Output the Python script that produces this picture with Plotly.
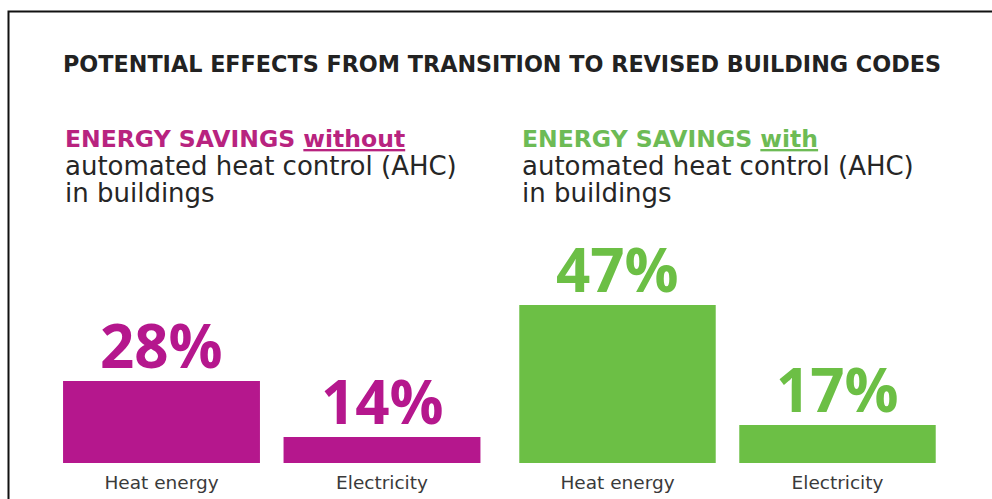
import plotly.graph_objects as go

categories = ["Heat energy", "Electricity"]
without_ahc = [28, 14]
with_ahc = [47, 17]
value_labels_without = ["28%", "14%"]
value_labels_with = ["47%", "17%"]

title_text = "POTENTIAL EFFECTS FROM TRANSITION TO REVISED BUILDING CODES"
left_head = ("ENERGY SAVINGS ", "without")
right_head = ("ENERGY SAVINGS ", "with")
sub_lines = ["automated heat control (AHC)", "in buildings"]

MAGENTA = "#B5178D"
GREEN = "#6CBF45"
MAGENTA_TXT = "#B8237F"
GREEN_TXT = "#6DBB55"
W, H = 992, 499

def px(x):
    return x / W

def py(y):
    return (H - y) / H

fig = go.Figure()
fig.add_trace(go.Bar(x=categories, y=without_ahc, marker=dict(color=MAGENTA, line=dict(width=0)),
                     xaxis="x", yaxis="y", hoverinfo="skip"))
fig.add_trace(go.Bar(x=categories, y=with_ahc, marker=dict(color=GREEN, line=dict(width=0)),
                     xaxis="x2", yaxis="y2", hoverinfo="skip"))

yr = [7.5, 68.25]
tickfont = dict(family="DejaVu Sans", size=18.5, color="#3a3a3a")
axis_common = dict(showgrid=False, zeroline=False, showline=False, ticks="outside",
                   ticklen=3, tickcolor="rgba(0,0,0,0)", tickfont=tickfont, fixedrange=True)
yaxis_common = dict(range=yr, visible=False, domain=[py(463), py(220)], fixedrange=True)

annotations = []
annotations.append(dict(text="<b>" + title_text + "</b>", x=px(61), y=py(64), xref="paper", yref="paper",
                        xanchor="left", yanchor="middle", showarrow=False,
                        font=dict(family="DejaVu Sans", size=22.3, color="#222222")))

def heading(x0, head, color):
    out = []
    out.append(dict(text="<b>" + head[0] + "<u>" + head[1] + "</u></b>", x=px(x0), y=py(139),
                    xref="paper", yref="paper", xanchor="left", yanchor="middle", showarrow=False,
                    font=dict(family="DejaVu Sans", size=23.5, color=color)))
    for i, line in enumerate(sub_lines):
        out.append(dict(text=line, x=px(x0), y=py(166 + 26.5 * i), xref="paper", yref="paper",
                        xanchor="left", yanchor="middle", showarrow=False,
                        font=dict(family="DejaVu Sans", size=26, color="#262626")))
    return out

annotations += heading(63, left_head, MAGENTA_TXT)
annotations += heading(520, right_head, GREEN_TXT)

for cat, v, lab in zip(categories, without_ahc, value_labels_without):
    annotations.append(dict(text="<b>" + lab + "</b>", x=cat, y=v, xref="x", yref="y",
                            xanchor="center", yanchor="bottom", showarrow=False, yshift=-7,
                            font=dict(family="Open Sans", size=60, color=MAGENTA, weight=800)))
for cat, v, lab in zip(categories, with_ahc, value_labels_with):
    annotations.append(dict(text="<b>" + lab + "</b>", x=cat, y=v, xref="x2", yref="y2",
                            xanchor="center", yanchor="bottom", showarrow=False, yshift=-7,
                            font=dict(family="Open Sans", size=60, color=GREEN, weight=800)))

fig.update_layout(
    width=W, height=H,
    margin=dict(l=0, r=0, t=0, b=0),
    paper_bgcolor="white", plot_bgcolor="white",
    showlegend=False, bargap=0.107,
    xaxis=dict(domain=[px(51.25), px(492.25)], anchor="y", **axis_common),
    xaxis2=dict(domain=[px(507.5), px(947.5)], anchor="y2", **axis_common),
    yaxis=dict(anchor="x", **yaxis_common),
    yaxis2=dict(anchor="x2", **yaxis_common),
    annotations=annotations,
    shapes=[dict(type="rect", xref="paper", yref="paper", x0=px(8.5), y0=py(520), x1=px(1010),
                 y1=py(11.5), line=dict(color="#111111", width=2), fillcolor="rgba(0,0,0,0)",
                 layer="above")],
)

fig.write_html("out.html", config=dict(displayModeBar=False),
               post_script="document.body.style.margin='0';document.body.style.overflow='hidden';")
